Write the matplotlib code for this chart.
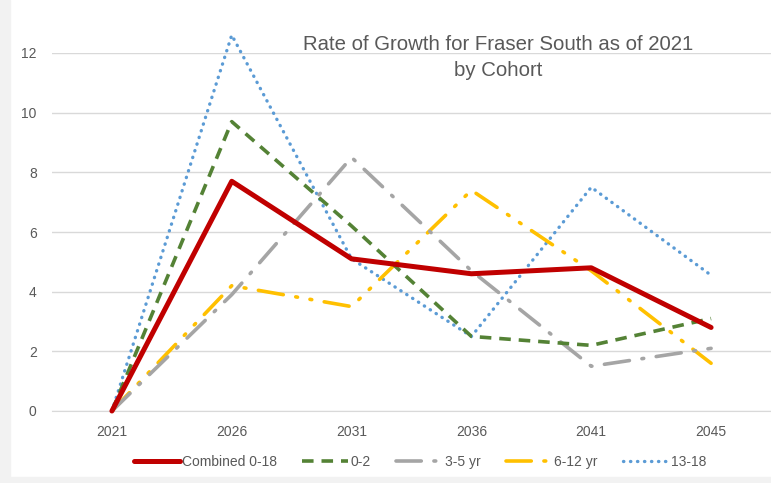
import matplotlib.pyplot as plt
from matplotlib.patches import Rectangle

years = ['2021', '2026', '2031', '2036', '2041', '2045']
combined = [0, 7.7, 5.1, 4.6, 4.8, 2.8]
age_0_2 = [0, 9.7, 6.2, 2.5, 2.2, 3.1]
age_3_5 = [0, 3.9, 8.5, 4.7, 1.5, 2.1]
age_6_12 = [0, 4.2, 3.5, 7.4, 4.7, 1.6]
age_13_18 = [0, 12.6, 5.1, 2.5, 7.5, 4.55]

plt.rcParams['font.family'] = ['Liberation Sans', 'DejaVu Sans']

fig = plt.figure(figsize=(7.71, 4.83), dpi=100)
fig.patches.append(Rectangle((0, 0), 0.013, 1, transform=fig.transFigure,
                             color='#f2f2f2', zorder=0))
fig.patches.append(Rectangle((0, 0), 1, 0.012, transform=fig.transFigure,
                             color='#f2f2f2', zorder=0))
ax = fig.add_axes([52 / 771, 1 - 411 / 483, 719 / 771, 358 / 483])

x = range(len(years))
ax.plot(x, combined, color='#C00000', lw=3.6, solid_capstyle='round', label='Combined 0-18',
        zorder=6, clip_on=False)
ax.plot(x, age_0_2, color='#548235', lw=2.6, dashes=(3.2, 2.2), label='0-2', zorder=5, clip_on=False)
ax.plot(x, age_3_5, color='#A5A5A5', lw=2.6, dashes=(7, 3.5, 0.5, 3.5), dash_capstyle='round',
        label='3-5 yr', zorder=4, clip_on=False)
ax.plot(x, age_6_12, color='#FFC000', lw=2.6, dashes=(7, 3.5, 0.5, 3.5, 0.5, 3.5), dash_capstyle='round',
        label='6-12 yr', zorder=3, clip_on=False)
ax.plot(x, age_13_18, color='#5B9BD5', lw=2.4, dashes=(0.1, 2.0), dash_capstyle='round',
        label='13-18', zorder=2, clip_on=False)

ax.set_xlim(-0.5, 5.5)
ax.set_ylim(0, 12)
ax.set_xticks(list(x))
ax.set_xticklabels(years)
ax.set_yticks(range(0, 13, 2))
ax.grid(axis='y', color='#d9d9d9', lw=1)
ax.set_axisbelow(True)
for s in ['top', 'right', 'left']:
    ax.spines[s].set_visible(False)
ax.spines['bottom'].set_color('#d9d9d9')
ax.tick_params(length=0, colors='#595959', labelsize=10, pad=10)
ax.tick_params(axis='y', pad=11)

ax.text(0.62, 1 + 18 / 358, 'Rate of Growth for Fraser South as of 2021\nby Cohort',
        transform=ax.transAxes, ha='center', va='top', fontsize=14.7,
        color='#595959', linespacing=1.45)

fig.legend(loc='center', bbox_to_anchor=(0.545, 1 - 462 / 483), ncol=5, frameon=False,
           fontsize=10, labelcolor='#595959', handlelength=3.3, handletextpad=0.2,
           columnspacing=1.8)

fig.savefig('out.png', dpi=100)
